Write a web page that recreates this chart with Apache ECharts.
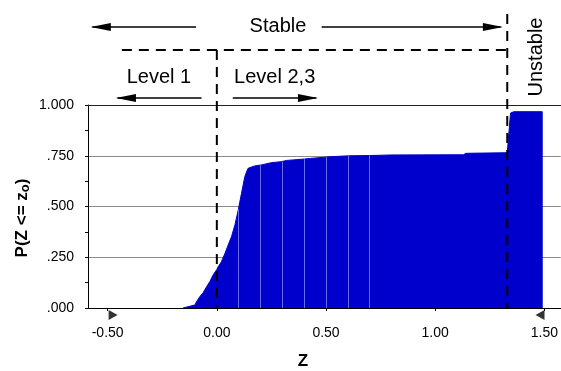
<!DOCTYPE html>
<html>
<head>
<meta charset="utf-8">
<script src="https://cdn.jsdelivr.net/npm/echarts@6/dist/echarts.min.js"></script>
<style>
html, body { margin: 0; padding: 0; background: #fff; }
#main { width: 561px; height: 371px; }
</style>
</head>
<body>
<div id="main"></div>
<script>
// cumulative probability curve
var zValues = [-0.155, -0.15, -0.10, -0.093, -0.078, -0.063, -0.047, -0.032, -0.017, 0.000,
               0.006, 0.021, 0.037, 0.050, 0.067, 0.083, 0.098, 0.113, 0.128, 0.136,
               0.143, 0.160, 0.174, 0.205, 0.212, 0.250, 0.296, 0.320, 0.403, 0.430,
               0.517, 0.609, 0.700, 0.800, 1.130, 1.140, 1.330, 1.345, 1.360, 1.490, 1.490];
var pValues = [0.000, 0.006, 0.015, 0.031, 0.056, 0.075, 0.105, 0.130, 0.163, 0.190,
               0.203, 0.228, 0.269, 0.305, 0.351, 0.410, 0.483, 0.565, 0.647, 0.670,
               0.688, 0.695, 0.700, 0.705, 0.713, 0.716, 0.721, 0.727, 0.734, 0.737,
               0.745, 0.750, 0.751, 0.754, 0.755, 0.762, 0.765, 0.960, 0.967, 0.967, 0.000];
// faint seams inside the filled area
var seamZ = [0.1, 0.2, 0.3, 0.4, 0.5, 0.6, 0.7];
var seamTop = [0.487, 0.703, 0.720, 0.733, 0.744, 0.750, 0.751];
var xTickValues = [-0.5, 0, 0.5, 1.0, 1.5];
var markerZ = [-0.475, 1.48];
var markerP = [-0.034, -0.034];
var boundaryZ = [0, 1.33];

var font = 'Liberation Sans, Arial, Helvetica, sans-serif';
var blue = '#0000cc';
var chart = echarts.init(document.getElementById('main'));

var curve = zValues.map(function (z, i) { return [z, pValues[i]]; });
var seams = seamZ.map(function (z, i) {
  return [{ coord: [z, 0] }, { coord: [z, seamTop[i]] }];
});

option = {
  animation: false,
  grid: { left: 88, right: 0, top: 105, bottom: 63 },
  xAxis: [{
    type: 'value',
    min: -0.59,
    max: 1.575,
    axisLine: { onZero: false, lineStyle: { color: '#000', width: 1 } },
    axisTick: { show: true, length: 3, customValues: xTickValues, lineStyle: { color: '#000' } },
    axisLabel: {
      customValues: xTickValues,
      margin: 18,
      color: '#000',
      fontFamily: font,
      fontSize: 14,
      formatter: function (v) { return v.toFixed(2); }
    },
    splitLine: { show: false }
  }, {
    type: 'value',
    position: 'top',
    min: -0.59,
    max: 1.575,
    axisLine: { show: true, onZero: false, lineStyle: { color: '#222', width: 1 } },
    axisTick: { show: false },
    axisLabel: { show: false },
    splitLine: { show: false }
  }],
  yAxis: {
    type: 'value',
    min: 0,
    max: 1,
    interval: 0.25,
    axisLine: { show: true, onZero: false, lineStyle: { color: '#000', width: 1 } },
    axisTick: { show: true, length: 3, lineStyle: { color: '#000' } },
    minorTick: { show: true, splitNumber: 2, length: 3, lineStyle: { color: '#000' } },
    axisLabel: {
      margin: 14,
      color: '#000',
      fontFamily: font,
      fontSize: 14,
      formatter: function (v) {
        var s = v.toFixed(3);
        return v < 1 ? s.replace(/^0/, '') : s;
      }
    },
    splitLine: { show: true, lineStyle: { color: '#8a8a8a', width: 1 } }
  },
  series: [{
    type: 'line',
    data: curve,
    symbol: 'none',
    lineStyle: { color: blue, width: 1 },
    areaStyle: { color: blue, opacity: 1 },
    z: 2,
    markLine: {
      silent: true,
      symbol: 'none',
      label: { show: false },
      lineStyle: { color: '#6a6aee', width: 1, type: 'solid' },
      data: seams
    }
  }, {
    type: 'scatter',
    data: [[markerZ[0], markerP[0]]],
    symbol: 'path://M0,0 L9,5 L0,10 Z',
    symbolSize: [9, 10],
    clip: false,
    itemStyle: { color: '#000' },
    z: 5
  }, {
    type: 'scatter',
    data: [[markerZ[1], markerP[1]]],
    symbol: 'path://M9,0 L0,5 L9,10 Z',
    symbolSize: [9, 10],
    clip: false,
    itemStyle: { color: '#000' },
    z: 5
  }]
};
chart.setOption(option);

// annotations above the plot, placed on the x scale
function px(z) { return chart.convertToPixel({ xAxisIndex: 0 }, z); }
var yBottom = chart.convertToPixel({ yAxisIndex: 0 }, 0);
var dash = { stroke: '#000', lineWidth: 2, lineDash: [10, 7] };
var solid = { stroke: '#000', lineWidth: 1.5 };

function arrowHead(tipX, y, dir) {
  var len = 20, half = 4;
  return {
    type: 'polygon',
    shape: { points: [[tipX, y], [tipX - dir * len, y - half], [tipX - dir * len, y + half]] },
    style: { fill: '#000' }
  };
}
function label(text, x, y) {
  return {
    type: 'text',
    style: { text: text, x: x, y: y, align: 'center', verticalAlign: 'middle',
             font: '20px ' + font, fill: '#000' }
  };
}

var g = [];
g.push({ type: 'line', shape: { x1: px(boundaryZ[0]), y1: 50, x2: px(boundaryZ[0]), y2: yBottom }, style: dash, z: 10 });
g.push({ type: 'line', shape: { x1: px(boundaryZ[1]), y1: 14, x2: px(boundaryZ[1]), y2: yBottom }, style: dash, z: 10 });
g.push({ type: 'line', shape: { x1: px(-0.435), y1: 50, x2: px(boundaryZ[1]), y2: 50 }, style: dash, z: 10 });

// Stable
g.push({ type: 'line', shape: { x1: px(-0.57), y1: 27, x2: px(-0.095), y2: 27 }, style: solid });
g.push({ type: 'line', shape: { x1: px(0.48), y1: 27, x2: px(1.30), y2: 27 }, style: solid });
g.push(arrowHead(px(-0.577), 27, -1));
g.push(arrowHead(px(1.31), 27, 1));
g.push(label('Stable', px(0.28), 26));

// Level 1
g.push({ type: 'line', shape: { x1: px(-0.455), y1: 98, x2: px(-0.07), y2: 98 }, style: solid });
g.push(arrowHead(px(-0.462), 98, -1));
g.push(label('Level 1', px(-0.265), 77));

// Level 2,3
g.push({ type: 'line', shape: { x1: px(0.073), y1: 98, x2: px(0.455), y2: 98 }, style: solid });
g.push(arrowHead(px(0.463), 98, 1));
g.push(label('Level 2,3', px(0.265), 77));

// Unstable
g.push({
  type: 'text', x: px(1.465), y: 57, rotation: Math.PI / 2,
  style: { text: 'Unstable', x: 0, y: 0, align: 'center', verticalAlign: 'middle',
           font: '20px ' + font, fill: '#000' }
});

// axis titles
g.push({
  type: 'text', x: 22, y: 218, rotation: Math.PI / 2,
  style: {
    text: '{a|P(Z <= z}{s|o}{a|)}', x: 0, y: 0, align: 'center', verticalAlign: 'middle',
    rich: {
      a: { font: 'bold 17px ' + font, fill: '#000' },
      s: { font: 'bold 13px ' + font, fill: '#000', padding: [6, 0, 0, 0] }
    }
  }
});
g.push({
  type: 'text', x: 303, y: 361,
  style: { text: 'Z', x: 0, y: 0, align: 'center', verticalAlign: 'middle',
           font: 'bold 17px ' + font, fill: '#000' }
});

chart.setOption({ graphic: g });
</script>
</body>
</html>
